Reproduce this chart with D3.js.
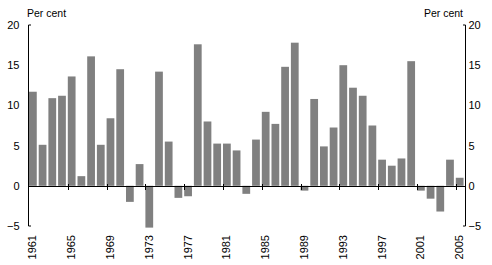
<!DOCTYPE html>
<html>
<head>
<meta charset="utf-8">
<script src="https://cdn.jsdelivr.net/npm/d3@7"></script>
<style>
  html, body { margin: 0; padding: 0; background: #fff; }
  svg { display: block; font-family: "Liberation Sans", Arial, sans-serif; }
</style>
</head>
<body>
<svg id="chart" width="492" height="265"></svg>
<script>
const years = d3.range(1961, 2006);
const values = [
  11.7, 5.1, 10.9, 11.2, 13.6, 1.2, 16.1, 5.1, 8.4, 14.5,
  -2.0, 2.7, -5.2, 14.2, 5.5, -1.5, -1.3, 17.6, 8.0, 5.25,
  5.25, 4.4, -1.0, 5.75, 9.2, 7.7, 14.8, 17.8, -0.6, 10.8,
  4.9, 7.25, 15.0, 12.2, 11.2, 7.5, 3.25, 2.5, 3.4, 15.5,
  -0.6, -1.6, -3.2, 3.25, 1.0
];
const yTicks = [-5, 0, 5, 10, 15, 20];
const xLabelYears = [1961, 1965, 1969, 1973, 1977, 1981, 1985, 1989, 1993, 1997, 2001, 2005];
const yUnit = "Per cent";

const svg = d3.select("#chart");
const mLeft = 28.5, mRight = 465.5, mTop = 25, mBottom = 226;

const x = d3.scaleBand().domain(years).range([mLeft + 0.5, mRight]).paddingInner(0.2).paddingOuter(0.1).align(0);
const y = d3.scaleLinear().domain([-5, 20]).range([mBottom, mTop]);

// bars
svg.append("g").selectAll("rect").data(years).join("rect")
  .attr("x", d => x(d))
  .attr("width", x.bandwidth())
  .attr("y", (d, i) => y(Math.max(0, values[i])))
  .attr("height", (d, i) => Math.abs(y(values[i]) - y(0)))
  .attr("fill", "#808080");

const y0 = Math.round(y(0)) + 0.5;
// zero line
svg.append("line").attr("x1", mLeft).attr("x2", mRight).attr("y1", y0).attr("y2", y0)
  .attr("stroke", "#000").attr("stroke-width", 1.2);

// x ticks
svg.append("g").selectAll("line").data(xLabelYears.filter(d => d !== 1961)).join("line")
  .attr("x1", d => Math.round(x(d)) + 0.5).attr("x2", d => Math.round(x(d)) + 0.5)
  .attr("y1", y0 - 2.5).attr("y2", y0 + 3.5)
  .attr("stroke", "#000").attr("stroke-width", 1);

// left axis
const lAxis = d3.axisLeft(y).tickValues(yTicks).tickSize(0).tickPadding(9);
const gl = svg.append("g").attr("transform", `translate(${mLeft},0)`).call(lAxis);
gl.select(".domain").remove();
gl.selectAll("text").attr("font-size", 11).attr("fill", "#000").attr("font-family", "Liberation Sans, Arial, sans-serif");
svg.append("path").attr("d", `M${mLeft + 2.5},${y(20)}H${mLeft}V${y(-5)}H${mLeft + 2.5}`)
  .attr("fill", "none").attr("stroke", "#000").attr("stroke-width", 1);

// right axis
const rAxis = d3.axisRight(y).tickValues(yTicks).tickSize(0).tickPadding(3);
const gr = svg.append("g").attr("transform", `translate(${mRight},0)`).call(rAxis);
gr.select(".domain").remove();
gr.selectAll("text").attr("font-size", 11).attr("fill", "#000").attr("font-family", "Liberation Sans, Arial, sans-serif");
svg.append("path").attr("d", `M${mRight - 2.5},${y(20)}H${mRight}V${y(-5)}H${mRight - 2.5}`)
  .attr("fill", "none").attr("stroke", "#000").attr("stroke-width", 1);

// x labels
svg.append("g").selectAll("text").data(xLabelYears).join("text")
  .attr("transform", d => `translate(${x(d) + x.bandwidth() / 2 + 3.5},${235}) rotate(-90)`)
  .attr("text-anchor", "end")
  .attr("font-size", 11)
  .text(d => d);

// unit labels
svg.append("text").attr("x", 27).attr("y", 16.5).attr("font-size", 10.5).text(yUnit);
svg.append("text").attr("x", 463).attr("y", 16.5).attr("text-anchor", "end").attr("font-size", 10.5).text(yUnit);
</script>
</body>
</html>
